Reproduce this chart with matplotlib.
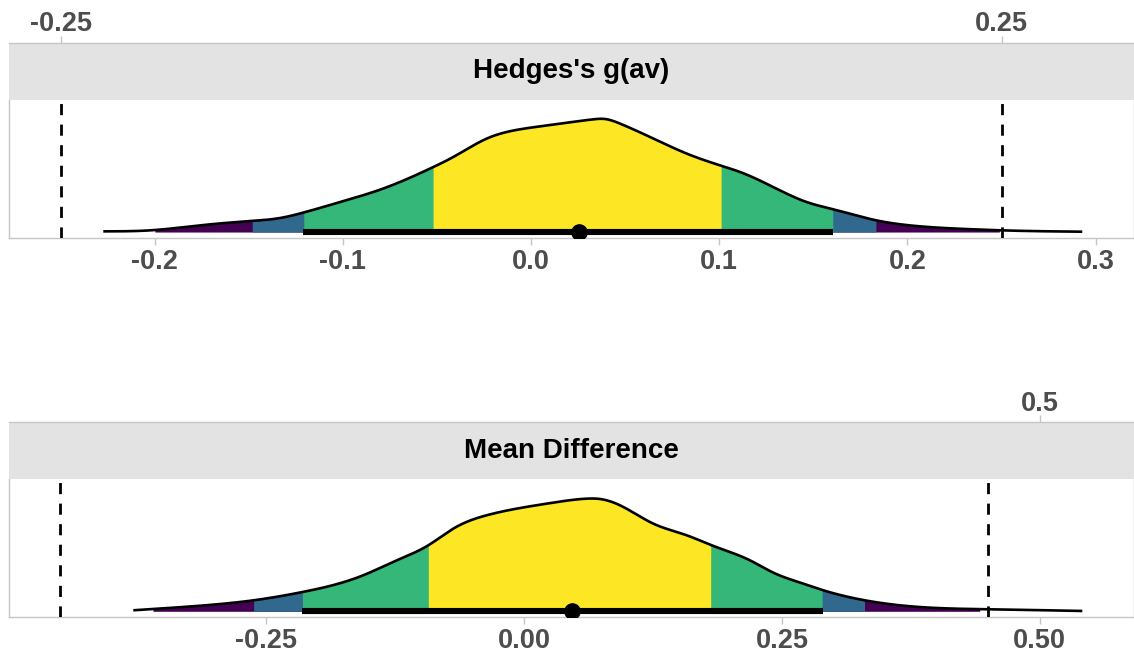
import numpy as np
import matplotlib
matplotlib.use("Agg")
import matplotlib.pyplot as plt

plt.rcParams["font.family"] = ["Liberation Sans", "DejaVu Sans"]
plt.rcParams["font.weight"] = "bold"

# ---- Hedges's g(av) panel -------------------------------------------------
g_x = [-0.2273, -0.2024, -0.1759, -0.1493, -0.1334, -0.1210, -0.1015, -0.0785,
       -0.0537, -0.0413, -0.0235, -0.0058, 0.0118, 0.0331, 0.0393, 0.0473,
       0.0650, 0.0827, 0.1004, 0.1111, 0.1287, 0.1465, 0.1606, 0.1833,
       0.2049, 0.2350, 0.2501, 0.2929]
g_dens = [0.006, 0.015, 0.059, 0.097, 0.124, 0.172, 0.265, 0.385,
          0.561, 0.664, 0.827, 0.909, 0.950, 0.997, 1.000, 0.959,
          0.827, 0.694, 0.590, 0.531, 0.398, 0.265, 0.201, 0.104,
          0.053, 0.024, 0.015, 0.003]
g_est = 0.0253
g_shades = [(-0.200, 0.249), (-0.1482, 0.1833), (-0.1211, 0.1605), (-0.0521, 0.1010)]
g_ci = (-0.1211, 0.1605)
g_bounds = [-0.25, 0.25]
g_ticks = [-0.2, -0.1, 0.0, 0.1, 0.2, 0.3]
g_ticklabels = ["-0.2", "-0.1", "0.0", "0.1", "0.2", "0.3"]
g_top_ticks = [-0.25, 0.25]
g_top_labels = ["-0.25", "0.25"]

# ---- Mean Difference panel ------------------------------------------------
md_x = [-0.3787, -0.3173, -0.2624, -0.2145, -0.1558, -0.1234, -0.0928, -0.0685,
        -0.0362, -0.0039, 0.0284, 0.0608, 0.0737, 0.0931, 0.1253, 0.1577,
        0.1820, 0.2191, 0.2417, 0.2676, 0.2901, 0.3306, 0.3710, 0.4501, 0.5412]
md_dens = [0.009, 0.047, 0.097, 0.171, 0.319, 0.451, 0.584, 0.732,
           0.850, 0.914, 0.962, 0.997, 0.994, 0.938, 0.776, 0.673,
           0.584, 0.451, 0.342, 0.254, 0.186, 0.097, 0.047, 0.018, 0.003]
md_est = 0.0462
md_shades = [(-0.360, 0.442), (-0.2627, 0.3306), (-0.2149, 0.2895), (-0.0928, 0.1813)]
md_ci = (-0.2149, 0.2895)
md_bounds = [-0.45, 0.45]
md_ticks = [-0.25, 0.0, 0.25, 0.5]
md_ticklabels = ["-0.25", "0.00", "0.25", "0.50"]
md_top_ticks = [0.5]
md_top_labels = ["0.5"]

# 99.9%, 95%, 90%, 50% shades
shade_colors = ["#440154", "#31688E", "#35B779", "#FDE725"]

BORDER = "#c6c6c6"
TICKTXT = "#4d4d4d"
TICK_FS = 19.5
STRIP_FS = 20


def smooth_curve(x, y, xs):
    # natural cubic spline through the traced density points
    x = np.asarray(x, float)
    y = np.asarray(y, float)
    n = len(x)
    h = np.diff(x)
    A = np.zeros((n, n))
    r = np.zeros(n)
    A[0, 0] = A[-1, -1] = 1
    for i in range(1, n - 1):
        A[i, i - 1] = h[i - 1]
        A[i, i] = 2 * (h[i - 1] + h[i])
        A[i, i + 1] = h[i]
        r[i] = 3 * ((y[i + 1] - y[i]) / h[i] - (y[i] - y[i - 1]) / h[i - 1])
    c = np.linalg.solve(A, r)
    b = (y[1:] - y[:-1]) / h - h * (2 * c[:-1] + c[1:]) / 3
    d = (c[1:] - c[:-1]) / (3 * h)
    idx = np.clip(np.searchsorted(x, xs) - 1, 0, n - 2)
    dx = xs - x[idx]
    return np.clip(y[idx] + b[idx] * dx + c[idx] * dx ** 2 + d[idx] * dx ** 3, 0, None)


def draw_panel(fig, body_rect, strip_rect, xlim, ylim, title, x, dens, est,
               shades, ci, bounds, ticks, ticklabels, top_ticks, top_labels):
    ax = fig.add_axes(body_rect)
    xs = np.linspace(x[0], x[-1], 1500)
    ys = smooth_curve(x, dens, xs)

    for (lo, hi), col in zip(shades, shade_colors):
        m = (xs >= lo) & (xs <= hi)
        ax.fill_between(xs[m], 0, ys[m], color=col, lw=0, zorder=2)
    ax.plot(xs, ys, color="black", lw=1.9, zorder=3, solid_capstyle="butt")

    for b in bounds:
        ax.axvline(b, color="black", lw=2.0, ls=(0, (4, 3.4)), zorder=4)

    ax.plot(ci, [0, 0], color="black", lw=4.4, solid_capstyle="butt", zorder=5)
    ax.plot([est], [0], "o", color="black", ms=11, zorder=6)

    ax.set_xlim(*xlim)
    ax.set_ylim(*ylim)
    ax.set_yticks([])
    ax.set_xticks(ticks)
    ax.set_xticklabels(ticklabels, fontsize=TICK_FS, fontweight="bold", color=TICKTXT)
    ax.tick_params(axis="x", length=5, width=1, color=BORDER, pad=3)
    for side in ["left", "bottom", "right"]:
        ax.spines[side].set_color(BORDER)
        ax.spines[side].set_linewidth(1)
    ax.spines["top"].set_visible(False)

    # facet strip with the secondary axis on its top edge
    st = fig.add_axes(strip_rect)
    st.set_facecolor("#e3e3e3")
    st.set_xlim(*xlim)
    st.set_ylim(0, 1)
    st.set_yticks([])
    for side in ["left", "bottom", "right"]:
        st.spines[side].set_visible(False)
    st.spines["top"].set_color(BORDER)
    st.spines["top"].set_linewidth(1)
    st.xaxis.set_ticks_position("top")
    st.set_xticks(top_ticks)
    st.set_xticklabels(top_labels, fontsize=TICK_FS, fontweight="bold", color=TICKTXT)
    st.tick_params(axis="x", top=True, bottom=False, length=5, width=1,
                   color=BORDER, pad=-1.2)
    st.text(0.5, 0.5, title, transform=st.transAxes, ha="center", va="center",
            fontsize=STRIP_FS, fontweight="bold", color="black")
    return ax


W, H = 1134, 659
fig = plt.figure(figsize=(W / 100, H / 100), dpi=100)


def rect(x0, y0, x1, y1):
    # pixel box (top-left origin) -> figure fraction
    return [x0 / W, 1 - y1 / H, (x1 - x0) / W, (y1 - y0) / H]


draw_panel(fig, rect(9, 100, 1134, 237.7), rect(9, 42.7, 1134, 100),
           (-0.2774, 0.3204), (-0.05, 1.168), "Hedges's g(av)",
           g_x, g_dens, g_est, g_shades, g_ci, g_bounds,
           g_ticks, g_ticklabels, g_top_ticks, g_top_labels)

draw_panel(fig, rect(9, 479, 1134, 617.3), rect(9, 422.3, 1134, 479),
           (-0.4992, 0.5913), (-0.053, 1.171), "Mean Difference",
           md_x, md_dens, md_est, md_shades, md_ci, md_bounds,
           md_ticks, md_ticklabels, md_top_ticks, md_top_labels)

fig.savefig("out.png", dpi=100)
